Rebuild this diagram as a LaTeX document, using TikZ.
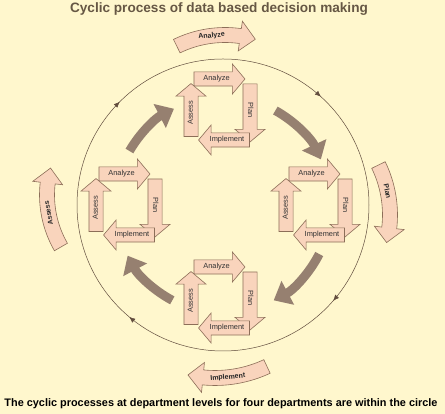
\documentclass[tikz,border=0pt]{standalone}
\usepackage{fontspec}
\setmainfont{Liberation Sans}
\usepackage{tikz}
\usetikzlibrary{arrows.meta,shapes.arrows,decorations.markings}
\definecolor{paper}{HTML}{FFF7CD}
\definecolor{peach}{HTML}{F9D4BC}
\definecolor{rim}{HTML}{8C6E58}
\definecolor{mud}{HTML}{968070}
\definecolor{headline}{HTML}{665744}
\tikzset{%
  smallarrow/.style={single arrow,draw=rim,fill=peach,line width=0.6pt,
    font=\fontsize{7.4}{8}\selectfont,text=black!80,text height=5.2pt,text depth=1.3pt,
    inner ysep=3.5pt,inner xsep=1pt,single arrow head extend=8pt,single arrow tip angle=100},
  bigband/.style={draw=rim,fill=peach,line width=0.6pt},
  bandlabel/.style={font=\fontsize{7}{8}\selectfont\bfseries,text=black!85,inner sep=1pt},
  turnarrow/.style={draw=mud,line width=9pt,-{Triangle[width=26pt,length=16pt]}}%
}

\begin{document}
\begin{tikzpicture}[x=1pt,y=1pt]
\fill[paper] (0,0) rectangle (445,414);
\useasboundingbox (0,0) rectangle (445,414);

% Title and caption
\node[font=\fontsize{13.6}{15}\selectfont\bfseries,text=headline] (title) at (219,405)
{Cyclic process of data based decision making};
\node[font=\fontsize{10.9}{12}\selectfont\bfseries] (caption) at (221,10)
{The cyclic processes at department levels for four departments are within the circle};

% The department circle
\coordinate (hub) at (223,209);
\draw[rim!70!black,line width=0.5pt,postaction={decorate},
      decoration={markings,
        mark=at position 0.114 with {\arrow{Latex[length=6pt,width=5pt]}},
        mark=at position 0.361 with {\arrow{Latex[length=6pt,width=5pt]}},
        mark=at position 0.625 with {\arrow{Latex[length=6pt,width=5pt]}},
        mark=at position 0.867 with {\arrow{Latex[length=6pt,width=5pt]}}}]
  ([shift={(0:146)}]hub) arc[start angle=0,end angle=-360,radius=146];

% Outer cycle (curved arrows)
\coordinate (ca) at (225,269);
\draw[bigband] ([shift={(116:117.5)}]ca) arc[start angle=116,end angle=82,radius=117.5]
  -- ([shift={(82:125)}]ca) -- ([shift={(74:110)}]ca) -- ([shift={(82:95)}]ca)
  -- ([shift={(82:102.5)}]ca) arc[start angle=82,end angle=116,radius=102.5] -- cycle;
\node[bandlabel,rotate=6] (out-analyze) at ([shift={(97:110)}]ca) {Analyze};

\coordinate (cp) at (276,199);
\draw[bigband] ([shift={(26:121.5)}]cp) arc[start angle=26,end angle=-6.5,radius=121.5]
  -- ([shift={(-6.5:129)}]cp) -- ([shift={(-14:114)}]cp) -- ([shift={(-6.5:99)}]cp)
  -- ([shift={(-6.5:106.5)}]cp) arc[start angle=-6.5,end angle=26,radius=106.5] -- cycle;
\node[bandlabel,rotate=-78] (out-plan) at ([shift={(12:114)}]cp) {Plan};

\coordinate (ci) at (215,159);
\draw[bigband] ([shift={(-65:130.5)}]ci) arc[start angle=-65,end angle=-95.6,radius=130.5]
  -- ([shift={(-95.6:138)}]ci) -- ([shift={(-102.7:123)}]ci) -- ([shift={(-95.6:108)}]ci)
  -- ([shift={(-95.6:115.5)}]ci) arc[start angle=-95.6,end angle=-65,radius=115.5] -- cycle;
\node[bandlabel,rotate=5] (out-implement) at ([shift={(-84:123)}]ci) {Implement};

\coordinate (cs) at (151,219);
\draw[bigband] ([shift={(210:111.5)}]cs) arc[start angle=210,end angle=173.4,radius=111.5]
  -- ([shift={(173.4:119)}]cs) -- ([shift={(165:104)}]cs) -- ([shift={(173.4:89)}]cs)
  -- ([shift={(173.4:96.5)}]cs) arc[start angle=173.4,end angle=210,radius=96.5] -- cycle;
\node[bandlabel,rotate=100] (out-assess) at ([shift={(190:104)}]cs) {Assess};

% Top department
\begin{scope}[shift={(220,304)}]
\node[smallarrow,minimum height=51pt] (top-analyze) at (-3.5,31) {Analyze};
\node[smallarrow,minimum height=58pt,rotate=-90] (top-plan) at (30,0) {Plan};
\node[smallarrow,minimum height=51pt,shape border rotate=180] (top-implement) at (7,-30) {Implement};
\node[smallarrow,minimum height=53pt,rotate=90] (top-assess) at (-29,-3) {Assess};
\end{scope}

% Right department
\begin{scope}[shift={(315,209)}]
\node[smallarrow,minimum height=51pt] (right-analyze) at (-3.5,31) {Analyze};
\node[smallarrow,minimum height=58pt,rotate=-90] (right-plan) at (30,0) {Plan};
\node[smallarrow,minimum height=51pt,shape border rotate=180] (right-implement) at (7,-30) {Implement};
\node[smallarrow,minimum height=53pt,rotate=90] (right-assess) at (-29,-3) {Assess};
\end{scope}

% Bottom department
\begin{scope}[shift={(220,116)}]
\node[smallarrow,minimum height=51pt] (bottom-analyze) at (-3.5,31) {Analyze};
\node[smallarrow,minimum height=58pt,rotate=-90] (bottom-plan) at (30,0) {Plan};
\node[smallarrow,minimum height=51pt,shape border rotate=180] (bottom-implement) at (7,-30) {Implement};
\node[smallarrow,minimum height=53pt,rotate=90] (bottom-assess) at (-29,-3) {Assess};
\end{scope}

% Left department
\begin{scope}[shift={(125,209)}]
\node[smallarrow,minimum height=51pt] (left-analyze) at (-3.5,31) {Analyze};
\node[smallarrow,minimum height=58pt,rotate=-90] (left-plan) at (30,0) {Plan};
\node[smallarrow,minimum height=51pt,shape border rotate=180] (left-implement) at (7,-30) {Implement};
\node[smallarrow,minimum height=53pt,rotate=90] (left-assess) at (-29,-3) {Assess};
\end{scope}

% Hand-over between departments
\draw[turnarrow] ([shift={(61:108)}]hub) arc[start angle=61,end angle=25,radius=108];
\draw[turnarrow] ([shift={(-27:108)}]hub) arc[start angle=-27,end angle=-62,radius=108];
\draw[turnarrow] ([shift={(-118:108)}]hub) arc[start angle=-118,end angle=-152,radius=108];
\draw[turnarrow] ([shift={(150:108)}]hub) arc[start angle=150,end angle=117,radius=108];

\end{tikzpicture}
\end{document}
